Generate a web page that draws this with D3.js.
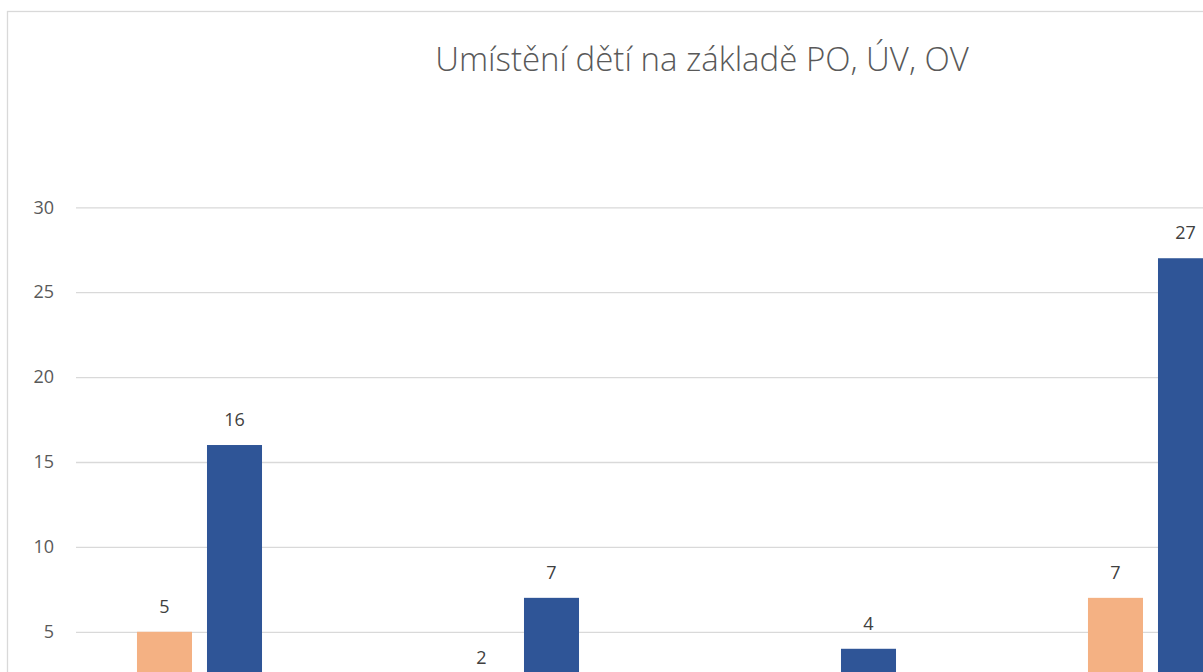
<!DOCTYPE html>
<html><head><meta charset="utf-8">
<script src="https://cdn.jsdelivr.net/npm/d3@7"></script>
<style>body{margin:0;background:#fff;} svg{display:block;}</style>
</head><body>
<svg id="chart" width="1203" height="672"></svg>
<script>
const title = "Umístění dětí na základě PO, ÚV, OV";
const categories = ["Skupina 1", "Skupina 2", "Skupina 3", "Skupina 4"];
const seriesNames = ["Řada 1", "Řada 2", "Řada 3"];
const series1 = [5, 2, 0, 7];
const series2 = [16, 7, 4, 27];
const series3 = [0, 0, 0, 0];
const yTicks = [5, 10, 15, 20, 25, 30];
const colors = ["#F4B183", "#2F5597", "#A5A5A5"];

const seriesValues = [series1, series2, series3];
const svg = d3.select("#chart");

// chart frame (extends beyond the visible crop)
svg.append("rect").attr("x", 7.5).attr("y", 11.5).attr("width", 1390).attr("height", 800)
  .attr("fill", "#fff").attr("stroke", "#D9D9D9").attr("stroke-width", 1.3);

svg.append("text").attr("x", 702).attr("y", 71).attr("text-anchor", "middle")
  .attr("font-family", "'Open Sans', sans-serif").attr("font-weight", 300)
  .attr("font-size", 33).attr("fill", "#595959").text(title);

const plotLeft = 76, groupStep = 317;
const x0 = d3.scaleBand().domain(categories).range([plotLeft, plotLeft + groupStep * categories.length]);
const x1 = d3.scaleBand().domain(seriesNames).range([0, x0.bandwidth()]).paddingInner(0.214).paddingOuter(0.871);
const y = d3.scaleLinear().domain([0, 30]).range([716.7, 207.3]);

const yAxis = d3.axisLeft(y).tickValues(yTicks).tickSize(-(groupStep * categories.length)).tickPadding(22);
const gy = svg.append("g").attr("transform", `translate(${plotLeft},0)`).call(yAxis);
gy.select(".domain").remove();
gy.selectAll(".tick line").attr("stroke", "#D9D9D9").attr("stroke-width", 1.3);
gy.selectAll(".tick text").attr("font-family", "'Open Sans', sans-serif").attr("font-size", 18).attr("fill", "#595959");

const data = [];
categories.forEach((c, i) => seriesNames.forEach((s, j) => data.push({c, s, j, v: seriesValues[j][i]})));

svg.append("g").selectAll("rect").data(data).join("rect")
  .attr("x", d => x0(d.c) + x1(d.s)).attr("width", x1.bandwidth())
  .attr("y", d => y(d.v)).attr("height", d => y(0) - y(d.v))
  .attr("fill", d => colors[d.j]);

// data labels (only those inside the visible crop of the reference)
svg.append("g").selectAll("text").data(data.filter(d => d.v > 0)).join("text")
  .attr("x", d => x0(d.c) + x1(d.s) + x1.bandwidth() / 2)
  .attr("y", d => y(d.v) - 19)
  .attr("text-anchor", "middle")
  .attr("font-family", "'Open Sans', sans-serif").attr("font-size", 18).attr("fill", "#404040")
  .text(d => d.v);
</script>
</body></html>
